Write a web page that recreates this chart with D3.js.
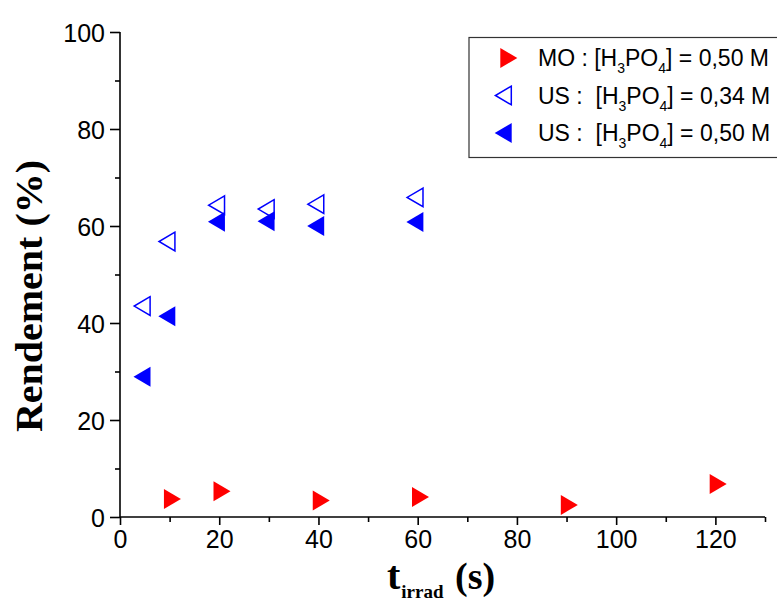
<!DOCTYPE html>
<html><head><meta charset="utf-8">
<script src="https://cdn.jsdelivr.net/npm/d3@7"></script>
<style>body{margin:0;background:#fff}svg{display:block}</style>
</head><body>
<svg id="c" width="777" height="605"></svg>
<script>
// Data
const moTime = [10, 20, 40, 60, 90, 120];
const moYield = [3.7, 5.3, 3.4, 4.1, 2.5, 6.8];
const us034Time = [5, 10, 20, 30, 40, 60];
const us034Yield = [43.5, 56.8, 64.3, 63.5, 64.5, 65.9];
const us050Time = [5, 10, 20, 30, 40, 60];
const us050Yield = [28.9, 41.4, 60.9, 61.0, 60.0, 60.8];
const xTicks = [0, 20, 40, 60, 80, 100, 120];
const yTicks = [0, 20, 40, 60, 80, 100];

const svg = d3.select("#c");
const x = d3.scaleLinear().domain([0, 130]).range([120, 765]);
const y = d3.scaleLinear().domain([0, 100]).range([517, 32]);
const tickFont = "'Liberation Sans', Arial, sans-serif";
const serif = "'Liberation Serif', 'Times New Roman', serif";

// X axis
const gx = svg.append("g").attr("transform", `translate(0,${y(0)})`)
  .call(d3.axisBottom(x).tickValues(xTicks).tickSize(8).tickPadding(5).tickFormat(d3.format("d")));
const gxMinor = svg.append("g").attr("transform", `translate(0,${y(0)})`)
  .call(d3.axisBottom(x).tickValues(d3.range(10, 131, 20)).tickSize(5).tickFormat(""));
gxMinor.select(".domain").remove();

// Y axis
const gy = svg.append("g").attr("transform", `translate(${x(0)},0)`)
  .call(d3.axisLeft(y).tickValues(yTicks).tickSize(10).tickPadding(5).tickFormat(d3.format("d")));
const gyMinor = svg.append("g").attr("transform", `translate(${x(0)},0)`)
  .call(d3.axisLeft(y).tickValues(d3.range(10, 100, 20)).tickSize(5).tickFormat(""));
gyMinor.select(".domain").remove();

[gx, gy, gxMinor, gyMinor].forEach(g => {
  g.selectAll("path.domain").attr("stroke", "#000").attr("stroke-width", 1.6);
  g.selectAll(".tick line").attr("stroke", "#000").attr("stroke-width", 1.6);
  g.selectAll(".tick text").attr("font-family", tickFont).attr("font-size", 25).attr("fill", "#000");
});
gx.select(".domain").attr("d", `M${x(0)},0H${x(130)}`);
gy.select(".domain").attr("d", `M0,${y(100)}V${y(0)}`);
gx.selectAll(".tick text").attr("dy", "0.72em");
gy.selectAll(".tick text").attr("dy", "0.36em");

// Marker shapes (centroid-centred triangles)
const rightTri = "M-5.7,-10L11.3,0L-5.7,10Z";
const leftTri = "M5.7,-10L-11.3,0L5.7,10Z";
const leftTriOpen = "M5.3,-9.3L-10.6,0L5.3,9.3Z";

function drawSeries(tx, ty, path, fill, stroke) {
  svg.append("g").selectAll("path").data(tx.map((t, i) => [t, ty[i]])).join("path")
    .attr("transform", d => `translate(${x(d[0])},${y(d[1])})`)
    .attr("d", path)
    .attr("fill", fill)
    .attr("stroke", stroke)
    .attr("stroke-width", stroke === "none" ? 0 : 1.5);
}
drawSeries(moTime, moYield, rightTri, "#ff0000", "none");
drawSeries(us034Time, us034Yield, leftTriOpen, "none", "#0000ff");
drawSeries(us050Time, us050Yield, leftTri, "#0000ff", "none");

// Axis titles
svg.append("text")
  .attr("transform", `translate(42,296) rotate(-90)`)
  .attr("text-anchor", "middle")
  .attr("font-family", serif)
  .attr("font-weight", "bold").attr("font-size", 38)
  .attr("textLength", 272).attr("lengthAdjust", "spacingAndGlyphs")
  .text("Rendement (%)");

const xt = svg.append("text").attr("x", 387).attr("y", 589)
  .attr("font-family", serif).attr("font-weight", "bold").attr("font-size", 40);
xt.append("tspan").text("t");
xt.append("tspan").attr("font-size", 19).attr("dx", 1).attr("dy", 9).text("irrad");
xt.append("tspan").attr("font-size", 38).attr("x", 455).attr("dy", -9).text("(s)");

// Legend
const legend = [
  {label: ["MO : [H", "3", "PO", "4", "] = 0,50 M"], path: rightTri, fill: "#ff0000", stroke: "none"},
  {label: ["US :  [H", "3", "PO", "4", "] = 0,34 M"], path: leftTriOpen, fill: "none", stroke: "#0000ff"},
  {label: ["US :  [H", "3", "PO", "4", "] = 0,50 M"], path: leftTri, fill: "#0000ff", stroke: "none"}
];
const lg = svg.append("g");
lg.append("rect").attr("x", 469).attr("y", 37.5).attr("width", 320).attr("height", 120)
  .attr("fill", "#fff").attr("stroke", "#333").attr("stroke-width", 1.2);
legend.forEach((L, i) => {
  const cy = 58 + i * 37.5;
  lg.append("path").attr("transform", `translate(506,${cy})`).attr("d", L.path)
    .attr("fill", L.fill).attr("stroke", L.stroke).attr("stroke-width", L.stroke === "none" ? 0 : 1.5);
  const t = lg.append("text").attr("x", 538).attr("y", cy + 8)
    .attr("font-family", tickFont).attr("font-size", 23).attr("xml:space", "preserve")
    .style("white-space", "pre");
  t.append("tspan").text(L.label[0]);
  t.append("tspan").attr("font-size", 14).attr("dy", 7).text(L.label[1]);
  t.append("tspan").attr("dy", -7).text(L.label[2]);
  t.append("tspan").attr("font-size", 14).attr("dy", 7).text(L.label[3]);
  t.append("tspan").attr("dy", -7).text(L.label[4]);
});
</script>
</body></html>
